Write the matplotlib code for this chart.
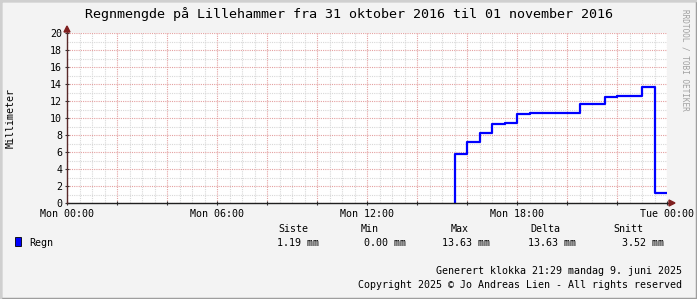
import matplotlib
matplotlib.use('Agg')
import matplotlib.pyplot as plt
from matplotlib.lines import Line2D
from matplotlib.patches import Polygon, Rectangle

plt.rcParams['font.family'] = ['DejaVu Sans Mono', 'DejaVu Sans']

title = "Regnmengde på Lillehammer fra 31 oktober 2016 til 01 november 2016"
ylabel = "Millimeter"

# rain, mm, one value per half hour from Mon 00:00
hours = [i * 0.5 for i in range(48)]
rain = [0.0] * 31 + [5.73, 7.2, 8.2, 9.25, 9.4, 10.5, 10.63, 10.63, 10.63, 10.63,
                     11.6, 11.6, 12.5, 12.62, 12.62, 13.63, 1.19]

xtick_pos = [0, 6, 12, 18, 24]
xtick_labels = ["Mon 00:00", "Mon 06:00", "Mon 12:00", "Mon 18:00", "Tue 00:00"]

legend_cols = ["Siste", "Min", "Max", "Delta", "Snitt"]
legend_vals = ["1.19 mm", "0.00 mm", "13.63 mm", "13.63 mm", "3.52 mm"]

W, H = 697, 299


def px(x, y):
    return x / W, 1 - y / H


fig = plt.figure(figsize=(W / 100, H / 100), dpi=100)
fig.patch.set_facecolor('#F3F3F3')

# shaded frame round the picture
fig.add_artist(Rectangle((0, 0), 1, 1, transform=fig.transFigure, fill=False,
                         edgecolor='#9E9E9E', linewidth=2.5))
fig.add_artist(Line2D([0, 0, 1], [0, 1, 1], transform=fig.transFigure,
                      color='#CFCFCF', linewidth=2.5))

x0, y0 = px(67, 203)
x1, y1 = px(667, 33)
ax = fig.add_axes([x0, y0, x1 - x0, y1 - y0])
ax.set_facecolor('white')

# the line along zero is hidden under the x axis, so start at the first rise
k = next(i for i, v in enumerate(rain) if v > 0)
xs = [hours[k]] + hours[k:] + [24]
ys = [0] + rain[k:] + [rain[-1]]
ax.step(xs, ys, where='post', color='#0000FF', linewidth=1.6, zorder=3)

ax.set_xlim(0, 24)
ax.set_ylim(0, 20)
ax.set_yticks(range(0, 21, 2))
ax.set_yticks(range(0, 21), minor=True)
ax.set_xticks(range(0, 25, 2))
ax.set_xticklabels([xtick_labels[xtick_pos.index(h)] if h in xtick_pos else ""
                    for h in range(0, 25, 2)])
ax.set_xticks(hours + [24], minor=True)

ax.grid(which='minor', color='#D8D8D8', linestyle=(0, (1, 1)), linewidth=0.8, zorder=1)
ax.grid(which='major', color='#E4A0A0', linestyle=(0, (1, 1)), linewidth=0.8, zorder=1)
ax.set_axisbelow(True)

ax.tick_params(which='minor', length=0)
ax.tick_params(which='major', length=3, width=0.8, direction='inout',
               labelsize=7.2, pad=2, color='#333333')
ax.tick_params(axis='x', pad=3)

for s in ax.spines.values():
    s.set_visible(False)

# axes with arrows
fig.add_artist(Line2D([x0, px(672, 0)[0]], [y0, y0], transform=fig.transFigure,
                      color='#1F1F1F', linewidth=1.0, zorder=5))
fig.add_artist(Line2D([x0, x0], [y0, px(0, 29)[1]], transform=fig.transFigure,
                      color='#5A2A2A', linewidth=1.0, zorder=5))
fig.add_artist(Polygon([px(669, 200), px(669, 206), px(675, 203)], closed=True,
                       transform=fig.transFigure, color='#7F1F1F', zorder=6))
fig.add_artist(Polygon([px(64, 32), px(70, 32), px(67, 26)], closed=True,
                       transform=fig.transFigure, color='#7F1F1F', zorder=6))

fig.text(*px(349, 14), title, ha='center', va='center', fontsize=9.6)
fig.text(*px(11, 118), ylabel, ha='center', va='center', rotation=90, fontsize=7.2)
fig.text(*px(685, 60), "RRDTOOL / TOBI OETIKER", ha='center', va='center',
         rotation=270, fontsize=5.6, color='#A0A0A0')

# legend
fig.add_artist(Rectangle(px(15, 246), 6 / W, 9 / H, transform=fig.transFigure,
                         facecolor='#0000FF', edgecolor='#000000', linewidth=0.6))
fig.text(*px(29, 243), "Regn", ha='left', va='center', fontsize=7.2)
col_x = [293, 370, 460, 545, 628]
val_x = [277, 364, 442, 528, 622]
for cx, name in zip(col_x, legend_cols):
    fig.text(*px(cx, 229), name, ha='center', va='center', fontsize=7.2)
for vx, val in zip(val_x, legend_vals):
    fig.text(*px(vx, 243), val, ha='left', va='center', fontsize=7.2)

fig.text(*px(682, 271), "Generert klokka 21:29 mandag 9. juni 2025",
         ha='right', va='center', fontsize=7.2)
fig.text(*px(682, 285), "Copyright 2025 © Jo Andreas Lien - All rights reserved",
         ha='right', va='center', fontsize=7.2)

fig.savefig('out.png', dpi=100, facecolor=fig.get_facecolor())
